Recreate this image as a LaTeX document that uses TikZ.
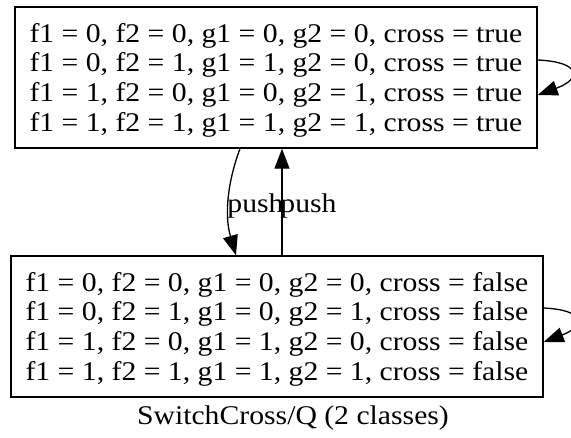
\documentclass[tikz,border=0pt]{standalone}
\usepackage{fontspec}
\setmainfont{Liberation Serif}[FakeStretch=1.1]
\usetikzlibrary{arrows.meta}
\newcommand{\firstline}{\rule{0pt}{24.5pt}}
\begin{document}
\begin{tikzpicture}[x=1pt,y=-1pt,
  txt/.style={font=\fontsize{27pt}{29.7pt}\selectfont},
  classbox/.style={txt,draw,line width=1.4pt,align=center,inner sep=0pt,
    minimum height=141pt},
  edge/.style={line width=1.3pt,-{Triangle[length=20pt,width=15pt]}},
  elabel/.style={txt,inner sep=0pt}]
  \useasboundingbox (0,0) rectangle (571,437);
  \clip (0,0) rectangle (571,437);

  % the two equivalence classes
  \node[classbox,minimum width=522pt] (top) at (276,77.5)
    {\firstline f1 = 0, f2 = 0, g1 = 0, g2 = 0, cross = true\\
     f1 = 0, f2 = 1, g1 = 1, g2 = 0, cross = true\\
     f1 = 1, f2 = 0, g1 = 0, g2 = 1, cross = true\\
     f1 = 1, f2 = 1, g1 = 1, g2 = 1, cross = true};
  \node[classbox,minimum width=532pt] (bot) at (277,326.5)
    {\firstline f1 = 0, f2 = 0, g1 = 0, g2 = 0, cross = false\\
     f1 = 0, f2 = 1, g1 = 0, g2 = 1, cross = false\\
     f1 = 1, f2 = 0, g1 = 1, g2 = 0, cross = false\\
     f1 = 1, f2 = 1, g1 = 1, g2 = 1, cross = false};

  % transitions between the classes
  \draw[edge] ([xshift=-36pt]top.south) .. controls +(-12,32) and +(-12,-41) ..
    ([xshift=-41pt]bot.north);
  \draw[edge] ([xshift=5pt]bot.north) -- ([xshift=6pt]top.south);
  \node[elabel] (lbldown) at (255.5,206) {push};
  \node[elabel] (lblup) at (308.5,206) {push};

  % self loops
  \draw[edge] ([yshift=17.5pt]top.east) .. controls +(44,2) and +(44,-16) ..
    ([yshift=-17.5pt]top.east);
  \draw[edge] ([yshift=18.5pt]bot.east) .. controls +(42,2) and +(42,-16) ..
    ([yshift=-15.5pt]bot.east);

  % graph caption
  \node[elabel] (caption) at (293,418) {SwitchCross/Q (2 classes)};
\end{tikzpicture}
\end{document}
